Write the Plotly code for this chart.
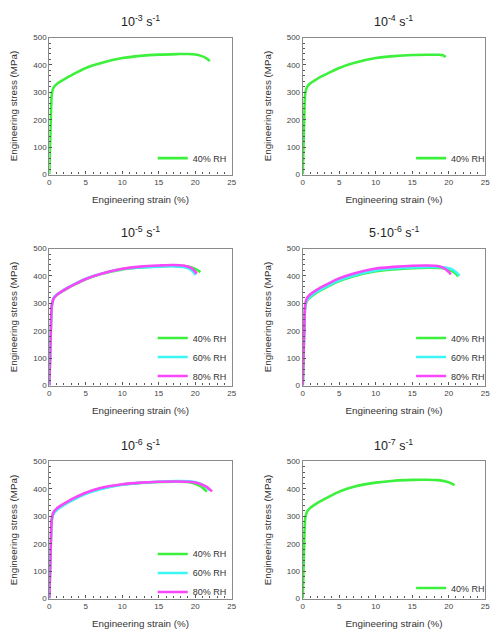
import plotly.graph_objects as go

# ---------------- data ----------------
titles = ["10<sup>-3</sup> s<sup>-1</sup>", "10<sup>-4</sup> s<sup>-1</sup>",
          "10<sup>-5</sup> s<sup>-1</sup>", "5·10<sup>-6</sup> s<sup>-1</sup>",
          "10<sup>-6</sup> s<sup>-1</sup>", "10<sup>-7</sup> s<sup>-1</sup>"]
labels = ["40% RH", "60% RH", "80% RH"]

# 10^-3 s^-1
p1_g_x = [0, 0.1, 0.2, 0.3, 0.4, 0.6, 1, 1.5, 2.5, 3.5, 5, 7, 10, 12.5, 15, 17.5, 19, 20, 20.8, 21.5, 22]
p1_g_y = [0, 100, 200, 280, 303, 318, 330, 339, 355, 369, 389, 406, 425, 433, 437.5, 439.5, 440, 438, 433, 425, 414]

# 10^-4 s^-1
p2_g_x = [0, 0.1, 0.2, 0.3, 0.4, 0.6, 1, 1.5, 2.5, 3.5, 5, 7, 10, 12.5, 15, 17, 18.5, 19.2, 19.6]
p2_g_y = [0, 100, 200, 282, 305, 320, 332, 341, 357, 370, 389, 407, 425, 432, 436, 437, 437, 435.5, 429]

# 10^-5 s^-1
p3_g_x = [0, 0.1, 0.2, 0.3, 0.4, 0.6, 1, 1.5, 2.5, 3.5, 5, 7, 10, 12.5, 15, 17, 18.5, 19.5, 20.2, 20.7]
p3_g_y = [0, 100, 200, 280, 302, 318, 330, 339, 355, 369, 388, 406, 424, 431, 435, 437, 436, 431, 423, 414]
p3_c_x = [0, 0.1, 0.2, 0.3, 0.4, 0.6, 1, 1.5, 2.5, 3.5, 5, 7, 10, 12.5, 15, 17, 18.5, 19.3, 19.8, 20.0]
p3_c_y = [0, 100, 200, 280, 303, 320, 332, 341, 357, 371, 390, 407, 425, 431, 434, 435, 432, 424, 412, 403]
p3_m_x = [0, 0.1, 0.2, 0.3, 0.4, 0.6, 1, 1.5, 2.5, 3.5, 5, 7, 10, 12.5, 15, 17, 18.5, 19.4, 19.9, 20.2]
p3_m_y = [0, 100, 200, 280, 300, 318, 330, 340, 356, 370, 389, 407, 426, 434, 438, 440, 437, 429, 418, 408]

# 5·10^-6 s^-1
p4_g_x = [0, 0.1, 0.2, 0.3, 0.4, 0.6, 1, 1.5, 2.5, 3.5, 5, 7, 10, 12.5, 15, 17.5, 19.5, 20.3, 20.9, 21.3]
p4_g_y = [0, 100, 200, 275, 295, 310, 322, 332, 348, 362, 381, 399, 417, 424, 428.5, 430, 427, 420, 410, 398]
p4_c_x = [0, 0.1, 0.2, 0.3, 0.4, 0.6, 1, 1.5, 2.5, 3.5, 5, 7, 10, 12.5, 15, 17.5, 19.5, 20.4, 21.0, 21.5]
p4_c_y = [0, 100, 200, 278, 298, 313, 325, 335, 351, 365, 384, 402, 420, 427, 431, 433, 431, 425, 414, 401]
p4_m_x = [0, 0.1, 0.2, 0.3, 0.4, 0.6, 1, 1.5, 2.5, 3.5, 5, 7, 10, 12.5, 15, 17, 18.5, 19.4, 19.9, 20.3]
p4_m_y = [0, 100, 200, 285, 305, 320, 332, 342, 358, 372, 391, 409, 427, 433, 437, 438, 436, 428, 417, 406]

# 10^-6 s^-1
p5_g_x = [0, 0.1, 0.2, 0.3, 0.4, 0.6, 1, 1.5, 2.5, 3.5, 5, 7, 10, 12.5, 15, 17.5, 19.5, 20.5, 21.1, 21.6]
p5_g_y = [0, 100, 200, 275, 298, 314, 326, 336, 352, 366, 384, 401, 416, 422, 425, 426, 423, 413, 402, 390]
p5_c_x = [0, 0.1, 0.2, 0.3, 0.4, 0.6, 1, 1.5, 2.5, 3.5, 5, 7, 10, 12.5, 15, 17.5, 19.5, 20.5, 21.3, 21.8, 22.0]
p5_c_y = [0, 100, 200, 272, 295, 310, 322, 332, 349, 363, 382, 399, 415, 422, 426, 428.5, 427, 421, 410, 400, 394]
p5_m_x = [0, 0.1, 0.2, 0.3, 0.4, 0.6, 1, 1.5, 2.5, 3.5, 5, 7, 10, 12.5, 15, 17.5, 19.5, 20.7, 21.5, 22.0, 22.3]
p5_m_y = [0, 100, 200, 278, 300, 316, 328, 338, 354, 368, 386, 403, 417, 423, 426, 427, 425, 418, 408, 398, 391]

# 10^-7 s^-1
p6_g_x = [0, 0.1, 0.2, 0.3, 0.4, 0.6, 1, 1.5, 2.5, 3.5, 5, 7, 10, 12.5, 15, 17, 18.5, 19.5, 20.2, 20.8]
p6_g_y = [0, 100, 200, 280, 302, 318, 330, 340, 356, 370, 390, 408, 423, 430, 433, 433.5, 432, 428, 422, 414]

panels = [
    [(p1_g_x, p1_g_y)],
    [(p2_g_x, p2_g_y)],
    [(p3_g_x, p3_g_y), (p3_c_x, p3_c_y), (p3_m_x, p3_m_y)],
    [(p4_g_x, p4_g_y), (p4_c_x, p4_c_y), (p4_m_x, p4_m_y)],
    [(p5_g_x, p5_g_y), (p5_c_x, p5_c_y), (p5_m_x, p5_m_y)],
    [(p6_g_x, p6_g_y)],
]

colors = ["#3cf03c", "#3cf5f5", "#fa46fa"]

# ---------------- layout geometry ----------------
W, H = 502, 642
col_px = [(48, 233), (305, 490)]
row_px = [(34, 173), (248, 387), (464, 603)]
legend_bottom_px = [171, 171, 392, 392, 611, 607]
legend_right_px = [233, 495, 233, 495, 233, 495]

FONT = "Liberation Sans, Arial, sans-serif"
fig = go.Figure()
layout = dict(width=W, height=H, margin=dict(l=0, r=0, t=0, b=0),
              paper_bgcolor="white", plot_bgcolor="white",
              font=dict(family=FONT, color="#333"))
annotations = []

for i, series in enumerate(panels):
    r, c = divmod(i, 2)
    xs = "" if i == 0 else str(i + 1)
    leg = "legend" if i == 0 else f"legend{i + 1}"
    for k, (sx, sy) in enumerate(series):
        fig.add_trace(go.Scatter(
            x=sx, y=sy, mode="lines", name=labels[k],
            line=dict(color=colors[k], width=2.6, shape="spline", smoothing=0.8),
            xaxis="x" + xs, yaxis="y" + xs, legend=leg, showlegend=True))
    x0, x1 = col_px[c]
    y0, y1 = row_px[r]
    dx = [x0 / W, x1 / W]
    dy = [1 - y1 / H, 1 - y0 / H]
    axis_common = dict(showgrid=False, zeroline=False, showline=True, mirror=True,
                       linecolor="#8a8a8a", linewidth=1.2, ticks="inside",
                       ticklen=3, tickcolor="#555", tickfont=dict(size=8, color="#444"),
                       minor=dict(ticks="inside", ticklen=2, tickcolor="#555"))
    layout["xaxis" + xs] = dict(axis_common, domain=dx, anchor="y" + xs, range=[0, 25],
                               tickvals=[0, 5, 10, 15, 20, 25], minor_dtick=1,
                               title=dict(text="Engineering strain (%)", standoff=9,
                                          font=dict(size=9.8, color="#333")))
    layout["yaxis" + xs] = dict(axis_common, domain=dy, anchor="x" + xs, range=[0, 500],
                               tickvals=[0, 100, 200, 300, 400, 500], minor_dtick=20,
                               title=dict(text="Engineering stress (MPa)", standoff=13,
                                          font=dict(size=9.8, color="#333")))
    layout[leg] = dict(x=legend_right_px[i] / W, xanchor="right",
                       y=1 - legend_bottom_px[i] / H, yanchor="bottom",
                       bgcolor="rgba(0,0,0,0)", font=dict(size=9, color="#333"),
                       itemwidth=30, tracegroupgap=0)
    annotations.append(dict(text=titles[i], xref="paper", yref="paper",
                            x=(dx[0] + dx[1]) / 2, y=dy[1] + 7 / H,
                            xanchor="center", yanchor="bottom", showarrow=False,
                            font=dict(size=12.5, color="#222")))

layout["annotations"] = annotations
fig.update_layout(**layout)
fig.write_html("out.html")
